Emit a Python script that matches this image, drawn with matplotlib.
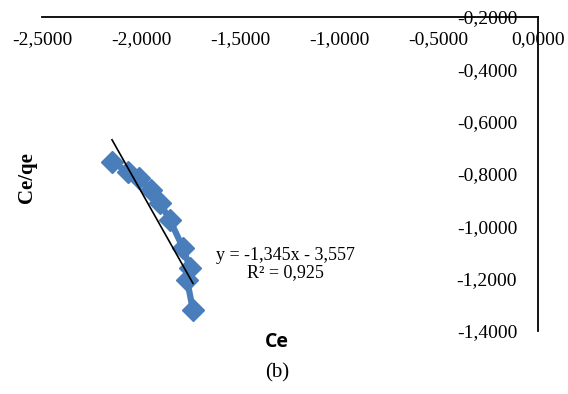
import matplotlib.pyplot as plt
from matplotlib.ticker import FuncFormatter

# Ce values (x) and Ce/qe values (y)
ce = [-2.147, -2.067, -2.011, -1.951, -1.905, -1.855, -1.789, -1.754, -1.769, -1.739]
ce_qe = [-0.754, -0.792, -0.815, -0.861, -0.911, -0.976, -1.083, -1.159, -1.205, -1.320]

# linear trendline reported on the chart
slope = -1.345
intercept = -3.557

x_ticks = [-2.5, -2.0, -1.5, -1.0, -0.5, 0.0]
y_ticks = [-1.4, -1.2, -1.0, -0.8, -0.6, -0.4, -0.2]

serif = 'Liberation Serif'


def comma_fmt(v, pos):
    return f"{v:.4f}".replace('.', ',')


fig = plt.figure(figsize=(5.68, 3.94), dpi=100)
ax = fig.add_axes([0.0739, 0.1599, 0.8733, 0.797])

ax.plot(ce, ce_qe, color='#4A7EBB', linewidth=4.5, marker='D',
        markersize=11, markeredgecolor='#4A7EBB', zorder=2)

tx = [min(ce), max(ce)]
ty = [slope * v + intercept for v in tx]
ax.plot(tx, ty, color='black', linewidth=1.2, zorder=3)

ax.set_xlim(-2.5, 0.0)
ax.set_ylim(-1.4, -0.2)
ax.set_xticks(x_ticks)
ax.set_yticks(y_ticks)
ax.xaxis.set_major_formatter(FuncFormatter(comma_fmt))
ax.yaxis.set_major_formatter(FuncFormatter(comma_fmt))

# axes cross at the top-right corner
ax.spines['top'].set_visible(False)
ax.spines['right'].set_visible(False)
ax.spines['bottom'].set_position(('axes', 1.0))
ax.spines['left'].set_position(('axes', 1.0))
for s in ('bottom', 'left'):
    ax.spines[s].set_linewidth(1.3)

ax.tick_params(axis='x', length=0, pad=10)
ax.tick_params(axis='y', length=0, pad=15)
for lab in ax.get_xticklabels() + ax.get_yticklabels():
    lab.set_fontfamily(serif)
    lab.set_fontsize(14)

fig.text(27 / 568, 1 - 178 / 394, 'Ce/qe', rotation=90, fontsize=15,
         fontweight='bold', family=serif, ha='center', va='center')
fig.text(277 / 568, 1 - 342 / 394, 'Ce', fontsize=14, fontweight='bold',
         family='Open Sans', ha='center', va='center')
fig.text(277 / 568, 1 - 373 / 394, '(b)', fontsize=15, family=serif,
         ha='center', va='center')
fig.text(285 / 568, 1 - 264 / 394, 'y = -1,345x - 3,557\nR² = 0,925',
         fontsize=13, family=serif, ha='center', va='center',
         linespacing=1.0)

fig.savefig('out.png', dpi=100)
